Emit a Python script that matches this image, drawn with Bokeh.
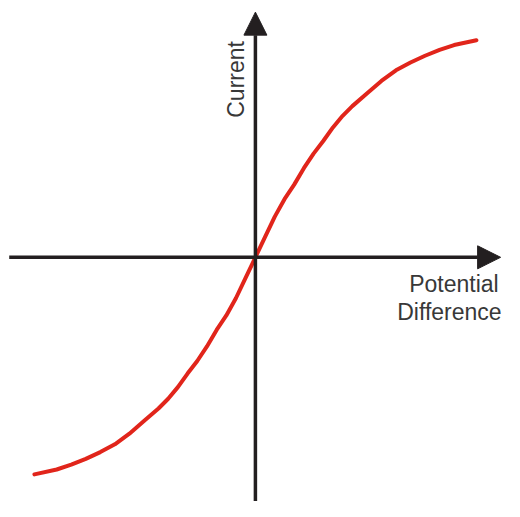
from bokeh.plotting import figure
from bokeh.models import Range1d, Label, Arrow, NormalHead
from bokeh.embed import file_html
from bokeh.resources import INLINE

# Potential difference (x) and current (y), arbitrary units, origin at 0
v_neg = [-228, -205, -190, -175, -160, -145, -130, -115, -100, -90, -80, -70, -60, -50, -40, -30, -20, -10, 0]
i_neg = [-224, -219, -214, -208, -201, -193, -182, -169, -156, -146, -134, -120, -107, -92, -75, -60, -42, -21, 0]
v_pos = [10, 20, 30, 40, 50, 60, 70, 80, 90, 100, 115, 130, 145, 160, 175, 190, 205, 228]
i_pos = [21, 42, 60, 75, 92, 107, 120, 134, 146, 156, 169, 182, 193, 201, 208, 214, 219, 224]

voltage = v_neg + v_pos
current = i_neg + i_pos

x_label = ["Potential", "Difference"]
y_label = "Current"

AXIS = "#231f20"
RED = "#e1251b"
TEXT = "#383838"

p = figure(width=504, height=501, output_backend="svg", toolbar_location=None,
           x_range=Range1d(-263, 257), y_range=Range1d(-252, 265),
           min_border=0, min_border_left=0, min_border_right=0,
           min_border_top=0, min_border_bottom=0)
p.axis.visible = False
p.grid.visible = False
p.outline_line_color = None
p.background_fill_color = "white"
p.border_fill_color = "white"

# axes with arrow heads
p.add_layout(Arrow(end=NormalHead(size=23, fill_color=AXIS, line_color=AXIS, line_width=1),
                   x_start=-254, y_start=0, x_end=253, y_end=0,
                   line_color=AXIS, line_width=3.5))
p.add_layout(Arrow(end=NormalHead(size=23, fill_color=AXIS, line_color=AXIS, line_width=1),
                   x_start=0, y_start=-252, x_end=0, y_end=253,
                   line_color=AXIS, line_width=3.5))

# I-V curve
p.line(voltage, current, line_color=RED, line_width=4, line_cap="round")

# labels
p.add_layout(Label(x=251, y=-28, text=x_label[0], text_align="right",
                   text_baseline="alphabetic", text_font="Liberation Sans",
                   text_font_size="23px", text_color=TEXT))
p.add_layout(Label(x=254, y=-56, text=x_label[1], text_align="right",
                   text_baseline="alphabetic", text_font="Liberation Sans",
                   text_font_size="23px", text_color=TEXT))
p.add_layout(Label(x=-20, y=144, text=y_label, angle=90, angle_units="deg",
                   text_align="left", text_baseline="alphabetic",
                   text_font="Liberation Sans", text_font_size="23px",
                   text_color=TEXT))

open("out.html", "w").write(file_html(p, INLINE))
